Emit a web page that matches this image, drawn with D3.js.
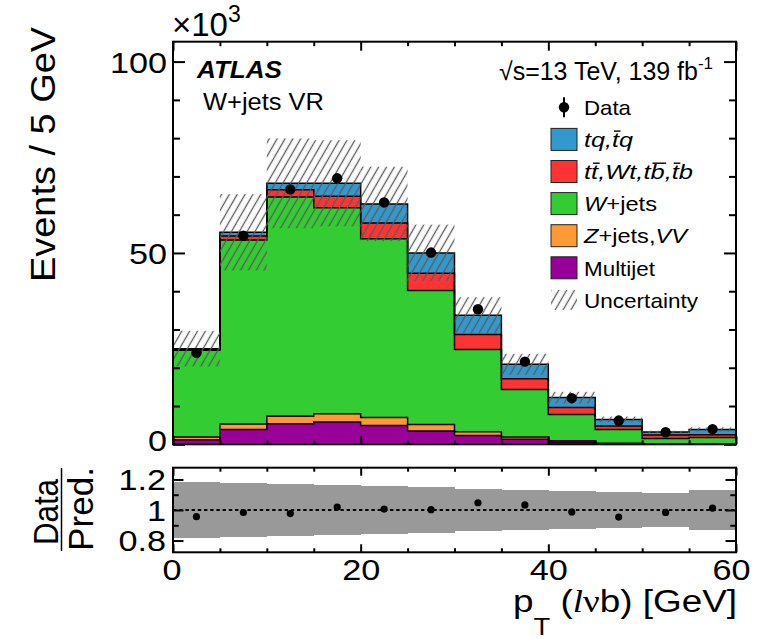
<!DOCTYPE html>
<html>
<head>
<meta charset="utf-8">
<script src="https://cdn.jsdelivr.net/npm/d3@7"></script>
<style>
  body { margin: 0; background: #fff; }
  svg { display: block; }
  text { font-family: "Liberation Sans", Arial, Helvetica, sans-serif; fill: #000; }
</style>
</head>
<body>
<svg id="chart" width="775" height="639"></svg>
<script>
// ---- binning: pT(lvb) in 5 GeV bins from 0 to 60 GeV ----
const binLow = [0, 5, 10, 15, 20, 25, 30, 35, 40, 45, 50, 55];
const binWidth = 5;

// ---- expected events per bin (x10^3), stacked bottom to top ----
const multijet = [1.2, 3.9, 5.4, 5.8, 4.9, 3.5, 2.3, 1.3, 0.6, 0.15, 0.03, 0.03];
const zjetsVV  = [0.7, 1.4, 1.9, 2.2, 2.1, 1.7, 1.0, 0.6, 0.35, 0.15, 0.05, 0.05];
const wjets    = [22.7, 48.1, 57.3, 53.8, 46.7, 35.0, 21.5, 12.4, 6.85, 3.6, 1.42, 1.72];
const ttbarWt  = [0.2, 1.0, 1.9, 3.0, 4.1, 4.5, 3.9, 2.8, 1.8, 0.9, 0.9, 0.7];
const tqChan   = [0.2, 1.0, 1.7, 3.4, 5.0, 5.3, 5.0, 3.8, 2.6, 1.7, 0.8, 1.4];

// ---- observed data (x10^3) and relative uncertainty of the prediction ----
const dataCounts = [23.9, 54.5, 66.6, 69.5, 63.2, 50.1, 35.3, 21.6, 12.05, 6.2, 3.15, 3.95];
const relUncert  = [0.186, 0.18, 0.172, 0.165, 0.155, 0.148, 0.14, 0.131, 0.125, 0.116, 0.11, 0.133];

// ---- tick values ----
const mainYTicks = [0, 50, 100];
const mainYMinor = [10, 20, 30, 40, 60, 70, 80, 90];
const xMajor = [0, 20, 40, 60];
const xMinor = [5, 10, 15, 25, 30, 35, 45, 50, 55];
const ratioTicks = [0.8, 1, 1.2];
const ratioMinor = [0.9, 1.1];

// ---- process definitions (stack order bottom -> top) ----
const keys = ["multijet", "zjets", "wjets", "ttbar", "tq"];
const colors = { multijet: "#990099", zjets: "#FF9933", wjets: "#33CC33", ttbar: "#FF3333", tq: "#3399CC" };

const rows = binLow.map((lo, i) => ({
  lo,
  multijet: multijet[i], zjets: zjetsVV[i], wjets: wjets[i], ttbar: ttbarWt[i], tq: tqChan[i],
  data: dataCounts[i], unc: relUncert[i]
}));
rows.forEach(r => { r.total = keys.reduce((s, k) => s + r[k], 0); });

const svg = d3.select("#chart");
const x  = d3.scaleLinear().domain([0, 60]).range([173, 736]);
const y  = d3.scaleLinear().domain([0, 105.2]).range([444.3, 41.7]);
const yr = d3.scaleLinear().domain([0.723, 1.277]).range([552.3, 467.7]);

// helpers for text width
function stretch(sel, k) {
  sel.each(function () {
    const L = this.getComputedTextLength();
    this.setAttribute("textLength", L * k);
    this.setAttribute("lengthAdjust", "spacingAndGlyphs");
  });
}
function setWidth(node, w) {
  node.setAttribute("textLength", w);
  node.setAttribute("lengthAdjust", "spacingAndGlyphs");
}

// hatch pattern for the uncertainty
const defs = svg.append("defs");
const pat = defs.append("pattern").attr("id", "hatch")
  .attr("patternUnits", "userSpaceOnUse").attr("width", 6.8).attr("height", 10)
  .attr("patternTransform", "rotate(30)");
pat.append("line").attr("x1", 3.4).attr("y1", -1).attr("x2", 3.4).attr("y2", 11)
  .attr("stroke", "#5a5a5a").attr("stroke-width", 1.3);
defs.append("clipPath").attr("id", "mainClip").append("rect")
  .attr("x", 173).attr("y", 41.7).attr("width", 563).attr("height", 402.6);

// ---- stacked histogram ----
const series = d3.stack().keys(keys)(rows);
const stepPts = s => s.flatMap(d => [
  { x: d.data.lo, y0: d[0], y1: d[1] },
  { x: d.data.lo + binWidth, y0: d[0], y1: d[1] }
]);
const area = d3.area().x(d => x(d.x)).y0(d => y(d.y0)).y1(d => y(d.y1));
const line = d3.line().x(d => x(d.x)).y(d => y(d.y1));

const gMain = svg.append("g").attr("clip-path", "url(#mainClip)");
series.forEach(s => {
  gMain.append("path").attr("d", area(stepPts(s))).attr("fill", colors[s.key]);
});
series.forEach(s => {
  gMain.append("path").attr("d", line(stepPts(s))).attr("fill", "none")
    .attr("stroke", "#000").attr("stroke-width", 1.5);
});

// uncertainty hatch
gMain.selectAll("rect.unc").data(rows).join("rect").attr("class", "unc")
  .attr("x", d => x(d.lo)).attr("width", d => x(d.lo + binWidth) - x(d.lo))
  .attr("y", d => y(d.total * (1 + d.unc)))
  .attr("height", d => y(d.total * (1 - d.unc)) - y(d.total * (1 + d.unc)))
  .attr("fill", "url(#hatch)");

// data points
gMain.selectAll("circle.data").data(rows).join("circle").attr("class", "data")
  .attr("cx", d => x(d.lo + binWidth / 2)).attr("cy", d => y(d.data)).attr("r", 5.2)
  .attr("fill", "#000");

// ---- ratio panel ----
const gRatio = svg.append("g");
gRatio.selectAll("rect.band").data(rows).join("rect").attr("class", "band")
  .attr("x", d => x(d.lo)).attr("width", d => x(d.lo + binWidth) - x(d.lo) + 0.3)
  .attr("y", d => yr(1 + d.unc)).attr("height", d => yr(1 - d.unc) - yr(1 + d.unc))
  .attr("fill", "#999999").attr("shape-rendering", "crispEdges");
gRatio.append("line").attr("x1", x(0)).attr("x2", x(60)).attr("y1", yr(1)).attr("y2", yr(1))
  .attr("stroke", "#000").attr("stroke-width", 2).attr("stroke-dasharray", "3.4 2.8");
gRatio.selectAll("circle.ratio").data(rows).join("circle").attr("class", "ratio")
  .attr("cx", d => x(d.lo + binWidth / 2)).attr("cy", d => yr(d.data / d.total)).attr("r", 3.6)
  .attr("fill", "#000");

// ---- axes (ticks point inward) ----
function axis(gen, tx, ty, values, size, fmt) {
  const a = gen.tickValues(values).tickSizeInner(-size).tickSizeOuter(0)
    .tickFormat(fmt || (() => ""));
  const g = svg.append("g").attr("transform", `translate(${tx},${ty})`).call(a);
  g.select(".domain").remove();
  g.selectAll("line").attr("stroke-width", 2);
  g.attr("font-family", null).attr("font-size", null);
  return g;
}
// main panel
const gMY = axis(d3.axisLeft(y), 173, 0, mainYTicks, 12, d3.format("d")).call(a => a.selectAll("text").remove());
axis(d3.axisLeft(y), 173, 0, mainYMinor, 7);
axis(d3.axisRight(y), 736, 0, mainYTicks, 12);
axis(d3.axisRight(y), 736, 0, mainYMinor, 7);
axis(d3.axisTop(x), 0, 41.7, xMajor, 9);
axis(d3.axisTop(x), 0, 41.7, xMinor, 4.5);
axis(d3.axisBottom(x), 0, 444.3, xMajor, 8);
axis(d3.axisBottom(x), 0, 444.3, xMinor, 4);

// main y labels
const yl = axis(d3.axisLeft(y).tickPadding(6), 173, 0, mainYTicks, 0.001, d3.format("d"));
yl.selectAll("line").remove();
yl.selectAll("text").attr("font-size", 30).attr("dy", d => d === 0 ? "0.19em" : "0.36em");
stretch(yl.selectAll("text"), 1.14);

// ratio panel
axis(d3.axisLeft(yr), 173, 0, ratioTicks, 10.5);
axis(d3.axisLeft(yr), 173, 0, ratioMinor, 5.7);
axis(d3.axisRight(yr), 736, 0, ratioTicks, 10.5);
axis(d3.axisRight(yr), 736, 0, ratioMinor, 5.7);
axis(d3.axisTop(x), 0, 467.7, xMajor, 8);
axis(d3.axisTop(x), 0, 467.7, xMinor, 4);
axis(d3.axisBottom(x), 0, 552.3, xMajor, 8);
axis(d3.axisBottom(x), 0, 552.3, xMinor, 4);

const ryl = axis(d3.axisLeft(yr).tickPadding(7), 173, 0, ratioTicks, 0.001,
  d => d === 1 ? "1" : d3.format(".1f")(d));
ryl.selectAll("line").remove();
ryl.selectAll("text").attr("font-size", 29).attr("dy", "0.36em");
stretch(ryl.selectAll("text"), 1.18);

const xl = axis(d3.axisBottom(x).tickPadding(7), 0, 552.3, xMajor, 0.001, d3.format("d"));
xl.selectAll("line").remove();
xl.selectAll("text").attr("font-size", 29).attr("dx", d => d === 60 ? -5 : (d === 0 ? -1.5 : 0));
stretch(xl.selectAll("text"), 1.18);

// frames
svg.append("rect").attr("x", 173).attr("y", 41.7).attr("width", 563).attr("height", 402.6)
  .attr("fill", "none").attr("stroke", "#000").attr("stroke-width", 2);
svg.append("rect").attr("x", 173).attr("y", 467.7).attr("width", 563).attr("height", 84.6)
  .attr("fill", "none").attr("stroke", "#000").attr("stroke-width", 2);

// ---- axis titles ----
const yTitle = svg.append("text").attr("transform", "translate(55,27) rotate(-90)")
  .attr("text-anchor", "end").attr("font-size", 35).text("Events / 5 GeV");
setWidth(yTitle.node(), 255);

const xTitle = svg.append("text").attr("x", 737).attr("y", 612)
  .attr("text-anchor", "end").attr("font-size", 31);
xTitle.append("tspan").text("p");
xTitle.append("tspan").attr("font-size", 23).attr("dy", 23).text("T");
xTitle.append("tspan").attr("dy", -23).text(" (");
xTitle.append("tspan").attr("font-family", "Liberation Serif, serif").attr("font-style", "italic").text("l");
xTitle.append("tspan").attr("font-family", "Liberation Serif, serif").text("ν");
xTitle.append("tspan").text("b) [GeV]");
setWidth(xTitle.node(), 224);

// ratio title as a fraction
const tData = svg.append("text").attr("transform", "translate(58,512) rotate(-90)")
  .attr("text-anchor", "middle").attr("font-size", 35).text("Data");
setWidth(tData.node(), 66);
const tPred = svg.append("text").attr("transform", "translate(93,509) rotate(-90)")
  .attr("text-anchor", "middle").attr("font-size", 35).text("Pred.");
setWidth(tPred.node(), 84);
svg.append("line").attr("x1", 61.5).attr("x2", 61.5).attr("y1", 468).attr("y2", 551)
  .attr("stroke", "#000").attr("stroke-width", 1.5);

// exponent
const expo = svg.append("text").attr("x", 172).attr("y", 36).attr("font-size", 33);
expo.append("tspan").text("×10");
expo.append("tspan").attr("font-size", 23).attr("dy", -14.5).text("3");

// ---- labels ----
const atlas = svg.append("text").attr("x", 197).attr("y", 78).attr("font-size", 23)
  .attr("font-weight", "bold").attr("font-style", "italic").text("ATLAS");
setWidth(atlas.node(), 85);
const region = svg.append("text").attr("x", 203).attr("y", 110).attr("font-size", 23).text("W+jets VR");
setWidth(region.node(), 121);
const lumi = svg.append("text").attr("x", 713).attr("y", 80).attr("text-anchor", "end").attr("font-size", 25);
lumi.append("tspan").text("√s=13 TeV, 139 fb");
lumi.append("tspan").attr("font-size", 17).attr("dy", -11).text("-1");
setWidth(lumi.node(), 214);

// ---- legend ----
const legendRows = [
  { key: "data", parts: [["Data", 0]], bars: [], w: 47 },
  { key: "tq", parts: [["tq,tq", 1]], bars: [3], w: 49 },
  { key: "ttbar", parts: [["tt,Wt,tb,tb", 1]], bars: [1, 7, 9], w: 109 },
  { key: "wjets", parts: [["W", 1], ["+jets", 0]], bars: [], w: 73 },
  { key: "zjets", parts: [["Z", 1], ["+jets,", 0], ["VV", 1]], bars: [], w: 103 },
  { key: "multijet", parts: [["Multijet", 0]], bars: [], w: 71 },
  { key: "unc", parts: [["Uncertainty", 0]], bars: [], w: 114 }
];
const legX = 551, legTop = 107.3, legStep = 32.1;
legendRows.forEach((r, i) => {
  const cy = legTop + i * legStep;
  if (r.key === "data") {
    svg.append("line").attr("x1", legX + 13).attr("x2", legX + 13).attr("y1", cy - 10).attr("y2", cy + 10)
      .attr("stroke", "#000").attr("stroke-width", 2);
    svg.append("circle").attr("cx", legX + 13).attr("cy", cy).attr("r", 5.2).attr("fill", "#000");
  } else if (r.key === "unc") {
    svg.append("rect").attr("x", legX).attr("y", cy - 10).attr("width", 26).attr("height", 20)
      .attr("fill", "url(#hatch)");
  } else {
    svg.append("rect").attr("x", legX).attr("y", cy - 11).attr("width", 26).attr("height", 22)
      .attr("fill", colors[r.key]).attr("stroke", "#222").attr("stroke-width", 1);
  }
  const t = svg.append("text").attr("x", 584).attr("y", cy + 7.7).attr("font-size", 21);
  r.parts.forEach(([s, it]) => t.append("tspan").attr("font-style", it ? "italic" : null).text(s));
  setWidth(t.node(), r.w);
  r.bars.forEach(ci => {
    const e = t.node().getExtentOfChar(ci);
    svg.append("line").attr("x1", e.x + 2).attr("x2", e.x + e.width + 1.5)
      .attr("y1", cy + 7.7 - 16).attr("y2", cy + 7.7 - 16)
      .attr("stroke", "#000").attr("stroke-width", 1.4);
  });
});
</script>
</body>
</html>
